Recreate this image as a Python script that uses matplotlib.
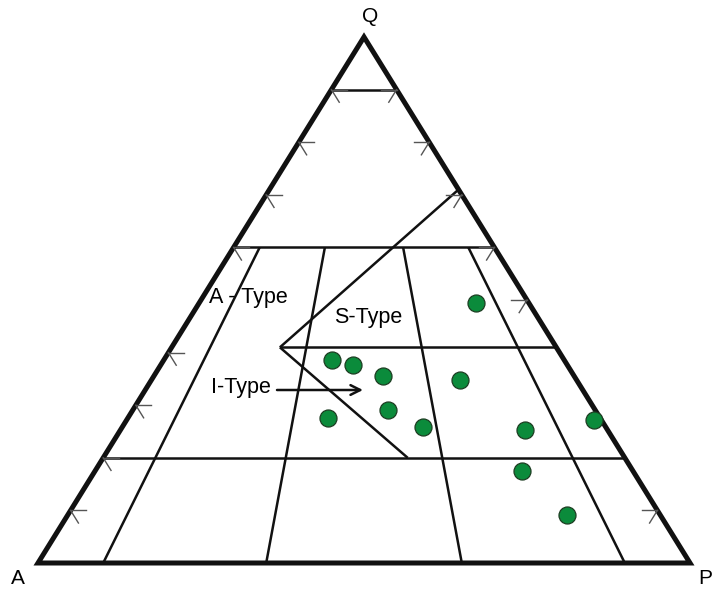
import numpy as np
import matplotlib.pyplot as plt

plt.rcParams['font.family'] = ['Liberation Sans', 'DejaVu Sans']

# sample compositions in percent (Q, A, P)
sample_q = [49.4, 38.6, 37.6, 35.6, 34.8, 27.6, 29.1, 25.9, 25.3, 27.2, 17.5, 9.1]
sample_a = [8.1, 35.6, 32.9, 29.3, 17.9, 41.7, 31.8, 28.0, 12.7, 1.1, 17.0, 14.3]
sample_p = [42.5, 25.8, 29.5, 35.1, 47.3, 30.7, 39.1, 46.1, 62.0, 71.7, 65.5, 76.6]

# field boundaries
q_levels = [90, 60, 20]            # full horizontal lines
radial_ratios = [10, 35, 65, 90]   # 100*P/(A+P), from base up to Q=60
is_apex = (41, 42.4, 16.6)         # Q, A, P
is_upper = (71, 0, 29)
is_lower = (20, 33.3, 46.7)

left_ticks = [90, 80, 70, 60, 40, 30, 20, 10]
right_ticks = [90, 80, 70, 60, 50, 10]

# pixel frame of the triangle
X0, Y0, W, H = 38, 563, 652, 526


def tern(q, a, p):
    q, a, p = np.asarray(q, float), np.asarray(a, float), np.asarray(p, float)
    s = q + a + p
    q, p = q / s, p / s
    return X0 + (p + q / 2) * W, Y0 - q * H


def seg(ax, t1, t2, **kw):
    x1, y1 = tern(*t1)
    x2, y2 = tern(*t2)
    ax.plot([x1, x2], [y1, y2], **kw)


fig = plt.figure(figsize=(7.13, 5.90), dpi=100)
ax = fig.add_axes([0, 0, 1, 1])
ax.set_xlim(0, 713)
ax.set_ylim(590, 0)
ax.axis('off')

inner = dict(color='#111111', lw=1.8, solid_capstyle='butt')

for q in q_levels:
    seg(ax, (q, 100 - q, 0), (q, 0, 100 - q), **inner)

for r in radial_ratios:
    seg(ax, (0, 100 - r, r), (60, 40 * (100 - r) / 100, 40 * r / 100), **inner)

# I / S type boundaries
seg(ax, is_apex, is_upper, **inner)
seg(ax, is_apex, is_lower, **inner)
seg(ax, is_apex, (is_apex[0], 0, 100 - is_apex[0]), **inner)

# arrow ticks along the edges
d = 2.4
tick = dict(color='#555555', lw=1.0)
for q in left_ticks:
    e = (q, 100 - q, 0)
    seg(ax, e, (q, 100 - q - d, d), **tick)
    seg(ax, e, (q - d, 100 - q, d), **tick)
for q in right_ticks:
    e = (q, 0, 100 - q)
    seg(ax, e, (q, d, 100 - q - d), **tick)
    seg(ax, e, (q - d, d, 100 - q), **tick)

# outer triangle
tx, ty = tern([0, 0, 100], [100, 0, 0], [0, 100, 0])
ax.add_patch(plt.Polygon(np.column_stack([tx, ty]), closed=True,
                         fill=False, ec='#111111', lw=3.6, joinstyle='miter'))

# samples
sx, sy = tern(sample_q, sample_a, sample_p)
ax.scatter(sx, sy, s=150, c='#0b8b3b', edgecolors='#1d3d22', linewidths=0.9, zorder=5)

# labels
ax.text(370, 17, 'Q', fontsize=15, ha='center', va='center')
ax.text(18, 578, 'A', fontsize=15, ha='center', va='center')
ax.text(698, 578, 'P', fontsize=15, ha='left', va='center')
ax.text(248, 298, 'A - Type', fontsize=15.5, ha='center', va='center')
ax.text(368, 317, 'S-Type', fontsize=15.5, ha='center', va='center')
ax.text(241, 388, 'I-Type', fontsize=15.5, ha='center', va='center')
ax.annotate('', xy=(363, 390), xytext=(277, 390),
            arrowprops=dict(arrowstyle='->,head_length=0.7,head_width=0.35',
                            lw=1.8, color='#111111', shrinkA=0, shrinkB=0))

fig.savefig('out.png', dpi=100)
